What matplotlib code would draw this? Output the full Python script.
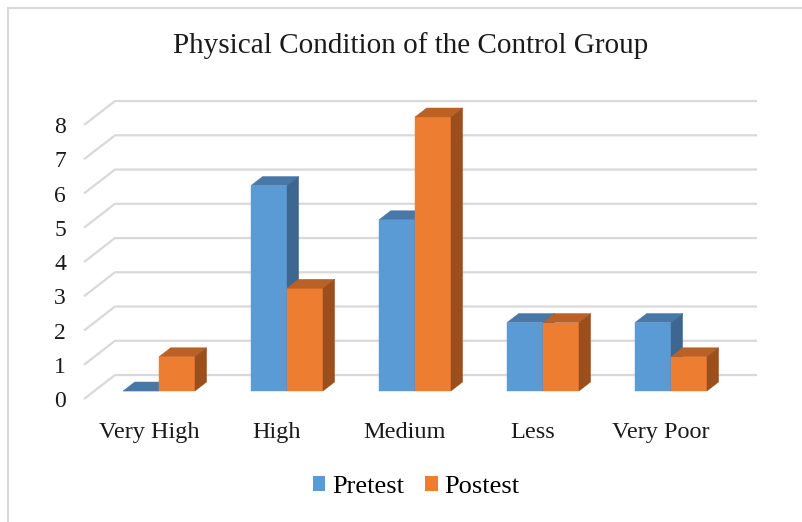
import matplotlib
matplotlib.use("Agg")
import matplotlib.pyplot as plt
from matplotlib.patches import Polygon, Patch
from matplotlib.lines import Line2D

categories = ["Very High", "High", "Medium", "Less", "Very Poor"]
pretest = [0, 6, 5, 2, 2]
postest = [1, 3, 8, 2, 1]
series_names = ["Pretest", "Postest"]
yticks = [0, 1, 2, 3, 4, 5, 6, 7, 8]

front_cols = ["#5B9BD5", "#ED7D31"]
top_cols = ["#4878A8", "#BC6126"]
side_cols = ["#3D6690", "#9B4F1C"]

W, H = 803, 522
fig = plt.figure(figsize=(W / 100, H / 100), dpi=100)
ax = fig.add_axes([0, 0, 1, 1])
# data coordinates: x = category index, y = value
ax.set_xlim(-159 / 128, (W - 159) / 128)
ax.set_ylim((391 - H) / 34.25, 391 / 34.25)
ax.axis("off")

serif = ["Liberation Serif", "DejaVu Serif"]
txt = "#1a1a1a"

# 3D geometry (data units)
bw = 0.281                 # bar width
bdx, bdy = 0.091, 0.263    # bar depth
fdx, fdy = -0.080, -0.234  # floor front relative to bar front plane
wdx, wdy = 0.242, 0.70     # wall depth relative to floor front
x_left = -0.506
x_right = 4.672

# gridlines + y labels
for k in yticks:
    y0 = k + fdy
    ax.plot([x_left + fdx, x_left + fdx + wdx, x_right],
            [y0, y0 + wdy, y0 + wdy], color="#D9D9D9", lw=1.6,
            solid_capstyle="butt", zorder=1)
    ax.text(-0.727, y0, str(k), ha="right", va="center_baseline", fontsize=17,
            family=serif, color=txt)

# bars (front, top, side faces)
for i in range(len(categories)):
    for s, vals in enumerate([pretest, postest]):
        v = vals[i]
        x0 = i - bw if s == 0 else i
        x1 = x0 + bw
        ax.bar(x0, v, width=bw, align="edge", color=front_cols[s],
               edgecolor=front_cols[s], linewidth=0.3, zorder=3)
        top = Polygon([(x0, v), (x0 + bdx, v + bdy), (x1 + bdx, v + bdy), (x1, v)],
                      closed=True, facecolor=top_cols[s], edgecolor=top_cols[s],
                      linewidth=0.3, zorder=3)
        ax.add_patch(top)
        if v > 0:
            side = Polygon([(x1, 0), (x1 + bdx, bdy), (x1 + bdx, v + bdy), (x1, v)],
                           closed=True, facecolor=side_cols[s], edgecolor=side_cols[s],
                           linewidth=0.3, zorder=3)
            ax.add_patch(side)

# category labels
for i, c in enumerate(categories):
    ax.text(i + fdx, -1.372, c, ha="center", va="baseline", fontsize=17.5,
            family=serif, color=txt)

# title
fig.text(411 / W, 1 - 46 / H, "Physical Condition of the Control Group",
         ha="center", va="center", fontsize=21, family=serif, color=txt)

# legend
handles = [Patch(facecolor=front_cols[s], edgecolor="none") for s in range(2)]
fig.legend(handles, series_names, loc="center", bbox_to_anchor=(416 / W, 1 - 487 / H),
           ncol=2, frameon=False, handlelength=0.48, handleheight=0.48,
           handletextpad=0.25, columnspacing=0.8,
           prop={"family": serif, "size": 19})

# chart border (left and top visible)
fig.add_artist(Line2D([8 / W, 8 / W], [0, 1 - 8 / H], transform=fig.transFigure,
                      color="#D9D9D9", lw=1.5))
fig.add_artist(Line2D([8 / W, 1], [1 - 8 / H, 1 - 8 / H], transform=fig.transFigure,
                      color="#D9D9D9", lw=1.5))

fig.savefig("out.png", dpi=100)
